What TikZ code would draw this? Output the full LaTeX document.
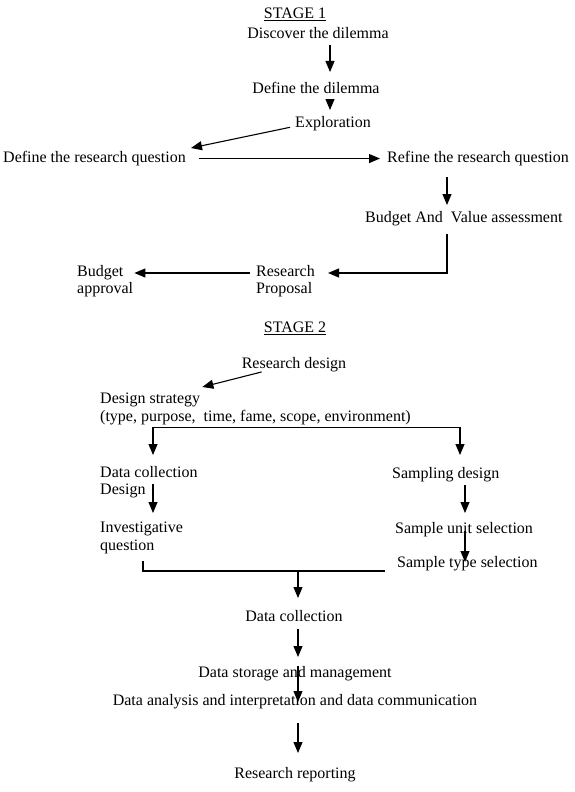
\documentclass[tikz,border=0pt]{standalone}
\usepackage{fontspec}
\setmainfont{Liberation Serif}
\usetikzlibrary{arrows.meta}

\begin{document}
\begin{tikzpicture}[x=1pt,y=-1pt,
	every node/.style={inner sep=0pt,font=\fontsize{16}{17.5}\selectfont},
	lab/.style={anchor=north},
	labl/.style={anchor=north west,align=left},
	tip/.style={-{Triangle[length=11pt,width=9pt]}},
	arr/.style={tip,line width=1.1pt}]
			\useasboundingbox (0,0) rectangle (575,792);
			% columns of the vertical arrows
			\coordinate (cA) at (330,0);
			\coordinate (cB) at (447,0);
			\coordinate (cL) at (153,0);
			\coordinate (cR) at (460,0);
			\coordinate (cS) at (465,0);
			\coordinate (cJ) at (143,0);
			\coordinate (cM) at (298,0);

			% stage 1
			\node[lab] (st1) at (295,8) {\underline{STAGE 1}};
			\node[lab] (disc) at (318,27) {Discover the dilemma};
			\node[lab] (defd) at (316,82) {Define the dilemma};
			\node[lab] (expl) at (333,116) {Exploration};
			\node[labl] (defq) at (3,151) {Define the research question};
			\node[labl] (refq) at (387,151) {Refine the research question};
			\node[labl] (bva) at (365,211) {Budget And\ \ Value assessment};
			\node[labl] (prop) at (256,265) {Research\\Proposal};
			\node[labl] (bappr) at (77,265) {Budget\\approval};

			\draw[arr,shorten <=6pt,shorten >=10pt] (disc.south -| cA) -- (defd.north -| cA);
			\draw[arr,shorten <=8pt,shorten >=6pt] (defd.south -| cA) -- (expl.north -| cA);
			\draw[arr] ([xshift=-5pt]expl.base west) -- ([shift={(5pt,3pt)}]defq.north east);
			\draw[arr,shorten <=13pt,shorten >=7pt] (defq.east) -- (refq.west);
			\draw[arr,shorten <=11pt,shorten >=6pt] (refq.south -| cB) -- (bva.north -| cB);
			\draw[arr,shorten <=8pt] (bva.south -| cB) |- ([shift={(13pt,-8pt)}]prop.north east);
			\draw[arr] ([shift={(-6pt,-8pt)}]prop.north west) -- ([shift={(1pt,-8pt)}]bappr.north east);

			% stage 2
			\node[lab] (st2) at (295,322) {\underline{STAGE 2}};
			\node[lab] (rdes) at (294,357) {Research design};
			\node[labl] (dstrat) at (100,393) {Design strategy};
			\node[labl] (dattr) at (100,410) {(type, purpose,\ \ time, fame, scope, environment)};
			\node[labl] (dcol) at (100,466) {Data collection\\Design};
			\node[labl] (inv) at (100,522) {Investigative\\question};
			\node[labl] (samp) at (392,467) {Sampling design};
			\node[labl] (sunit) at (395,522) {Sample unit selection};
			\node[labl] (stype) at (397,556) {Sample type selection};
			\node[lab] (dcoll) at (294,610) {Data collection};
			\node[lab] (dstor) at (295,666) {Data storage and management};
			\node[lab] (dana) at (295,694) {Data analysis and interpretation and data communication};
			\node[lab] (rrep) at (295,767) {Research reporting};

			\draw[arr] ([xshift=20pt]rdes.south west) -- ([shift={(2pt,6pt)}]dstrat.north east);
			\draw[{Triangle[length=11pt,width=9pt]}-{Triangle[length=11pt,width=9pt]},line width=1.1pt,
				shorten <=11pt,shorten >=12pt] (dcol.north -| cL) |- ([yshift=-2.5pt]dattr.south -| cR) -- (samp.north -| cR);
			\draw[arr,shorten >=9pt] ([yshift=14pt]dcol.south -| cL) -- (inv.north -| cL);
			\draw[arr,shorten <=3.5pt,shorten >=9pt] (samp.south -| cS) -- (sunit.north -| cS);
			\draw[arr] ([yshift=6pt]sunit.south -| cS) -- ([yshift=-6pt]stype.north -| cS);
			\draw[line width=1.1pt] ([yshift=-7.5pt]inv.south -| cJ) |- ([xshift=-12pt]stype.south west);
			\draw[arr,shorten >=12pt] (stype.south -| cM) -- (dcoll.north -| cM);
			\draw[arr,shorten <=7pt,shorten >=9pt] (dcoll.south -| cM) -- (dstor.north -| cM);
			\draw[arr] (dstor.north -| cM) -- ([yshift=-8pt]dana.north -| cM);
			\draw[arr,shorten <=14.5pt,shorten >=14pt] (dana.south -| cM) -- (rrep.north -| cM);
\end{tikzpicture}
\end{document}
